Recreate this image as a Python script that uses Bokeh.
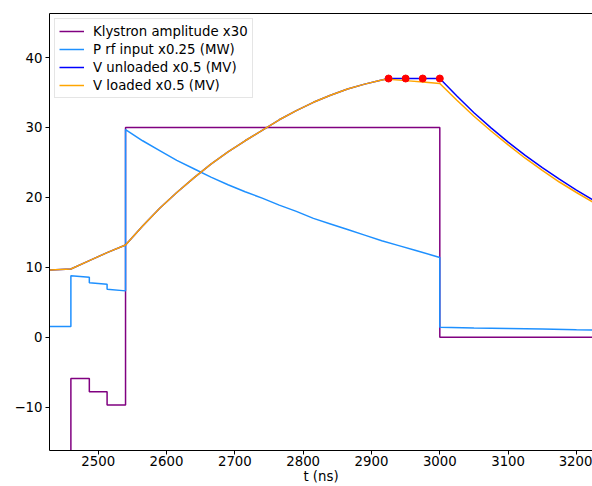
from bokeh.plotting import figure
from bokeh.models import Range1d, FixedTicker, LinearAxis, Legend, LegendItem
from bokeh.embed import file_html
from bokeh.resources import INLINE

# ---- data ----
kly_t = [2400, 2460, 2460, 2487, 2487, 2513, 2513, 2540, 2540, 3000, 3000, 3240]
kly_v = [-20, -20, -5.9, -5.9, -7.8, -7.8, -9.7, -9.7, 30.0, 30.0, 0.0, 0.0]

prf_t = [2400, 2460, 2460, 2487, 2487, 2513, 2513, 2540, 2540,
         2565, 2590, 2615, 2640, 2665, 2690, 2715, 2740, 2765, 2790,
         2815, 2840, 2865, 2890, 2915, 2940, 2965, 2990, 3000,
         3000, 3050, 3100, 3150, 3200, 3240]
prf_v = [1.52, 1.52, 8.8, 8.57, 7.8, 7.57, 6.86, 6.63, 29.7,
         28.1, 26.7, 25.3, 24.1, 22.9, 21.8, 20.8, 19.9, 18.9, 18.0,
         17.0, 16.2, 15.4, 14.6, 13.8, 13.1, 12.4, 11.7, 11.4,
         1.43, 1.33, 1.24, 1.16, 1.08, 1.03]

vu_t = [2400, 2430, 2460, 2487, 2513, 2540,
        2565, 2590, 2615, 2640, 2665, 2690, 2715, 2740, 2765, 2790,
        2815, 2840, 2865, 2890, 2915, 2925, 2950, 2975, 3000,
        3025, 3050, 3075, 3100, 3125, 3150, 3175, 3200, 3225]
vu_v = [9.6, 9.6, 9.75, 10.95, 12.1, 13.2,
        15.9, 18.45, 20.7, 22.8, 24.75, 26.5, 28.1, 29.6, 31.1, 32.4,
        33.6, 34.6, 35.5, 36.2, 36.8, 37.0, 37.0, 37.0, 37.0,
        34.5, 32.1, 29.95, 27.9, 26.0, 24.25, 22.6, 21.05, 19.6]

vl_t = vu_t
vl_v = [9.6, 9.6, 9.75, 10.95, 12.1, 13.2,
        15.9, 18.45, 20.7, 22.8, 24.75, 26.5, 28.1, 29.6, 31.1, 32.4,
        33.6, 34.6, 35.5, 36.2, 36.8, 36.9, 36.7, 36.5, 36.3,
        33.9, 31.6, 29.5, 27.5, 25.6, 23.85, 22.2, 20.7, 19.25]

dots_t = [2925, 2950, 2975, 3000]
dots_v = [37.0, 37.0, 37.0, 37.0]

x_ticks = [2500, 2600, 2700, 2800, 2900, 3000, 3100, 3200]
y_ticks = [-10, 0, 10, 20, 30, 40]
y_tick_labels = {-10: "\u221210", 0: "0", 10: "10", 20: "20", 30: "30", 40: "40"}

labels = ["Klystron amplitude x30", "P rf input x0.25 (MW)",
          "V unloaded x0.5 (MV)", "V loaded x0.5 (MV)"]
x_label = "t (ns)"

FONT = "DejaVu Sans"
FS = "13.3px"

p = figure(width=592, height=486, output_backend="svg", toolbar_location=None,
           x_range=Range1d(2428.7, 3223.5), y_range=Range1d(-16.2, 46.3),
           min_border_left=49, min_border_right=0, min_border_top=13,
           min_border_bottom=36)
p.grid.visible = False
p.outline_line_color = None
p.background_fill_color = "white"
p.border_fill_color = "white"

for ax in (p.xaxis[0], p.yaxis[0]):
    ax.major_tick_in = 0
    ax.major_tick_out = 4
    ax.minor_tick_in = 0
    ax.minor_tick_out = 0
    ax.axis_line_color = "black"
    ax.axis_line_width = 1
    ax.major_tick_line_color = "black"
    ax.major_label_text_font = FONT
    ax.major_label_text_font_size = FS
    ax.major_label_text_color = "black"
p.xaxis.ticker = FixedTicker(ticks=x_ticks)
p.yaxis.ticker = FixedTicker(ticks=y_ticks)
p.yaxis.major_label_overrides = y_tick_labels
p.xaxis.major_label_standoff = 1
p.yaxis.major_label_standoff = 3
p.xaxis.axis_label = x_label
p.xaxis.axis_label_standoff = 0
p.xaxis.axis_label_text_font = FONT
p.xaxis.axis_label_text_font_size = FS
p.xaxis.axis_label_text_font_style = "normal"
p.xaxis.axis_label_text_color = "black"

top = LinearAxis(ticker=FixedTicker(ticks=[]), axis_line_color="black",
                 major_tick_out=0, major_tick_in=0, minor_tick_out=0, minor_tick_in=0,
                 major_label_standoff=0, major_label_text_font_size="0px")
p.add_layout(top, "above")

r1 = p.line(kly_t, kly_v, line_color="purple", line_width=1.5)
r2 = p.line(prf_t, prf_v, line_color="dodgerblue", line_width=1.5)
r3 = p.line(vu_t, vu_v, line_color="blue", line_width=1.5)
r4 = p.line(vl_t, vl_v, line_color="orange", line_width=1.5)
p.scatter(dots_t, dots_v, size=7, fill_color="red", line_color="red")

legend = Legend(items=[LegendItem(label=l, renderers=[r]) for l, r in zip(labels, [r1, r2, r3, r4])],
                location="top_left", margin=5, padding=4, spacing=2,
                glyph_width=25, glyph_height=16, label_height=16, label_standoff=9,
                label_text_font=FONT, label_text_font_size=FS, label_text_color="black",
                border_line_color="#cccccc", border_line_width=1,
                background_fill_color="white", background_fill_alpha=0.8)
p.add_layout(legend)

open("out.html", "w").write(file_html(p, INLINE))
